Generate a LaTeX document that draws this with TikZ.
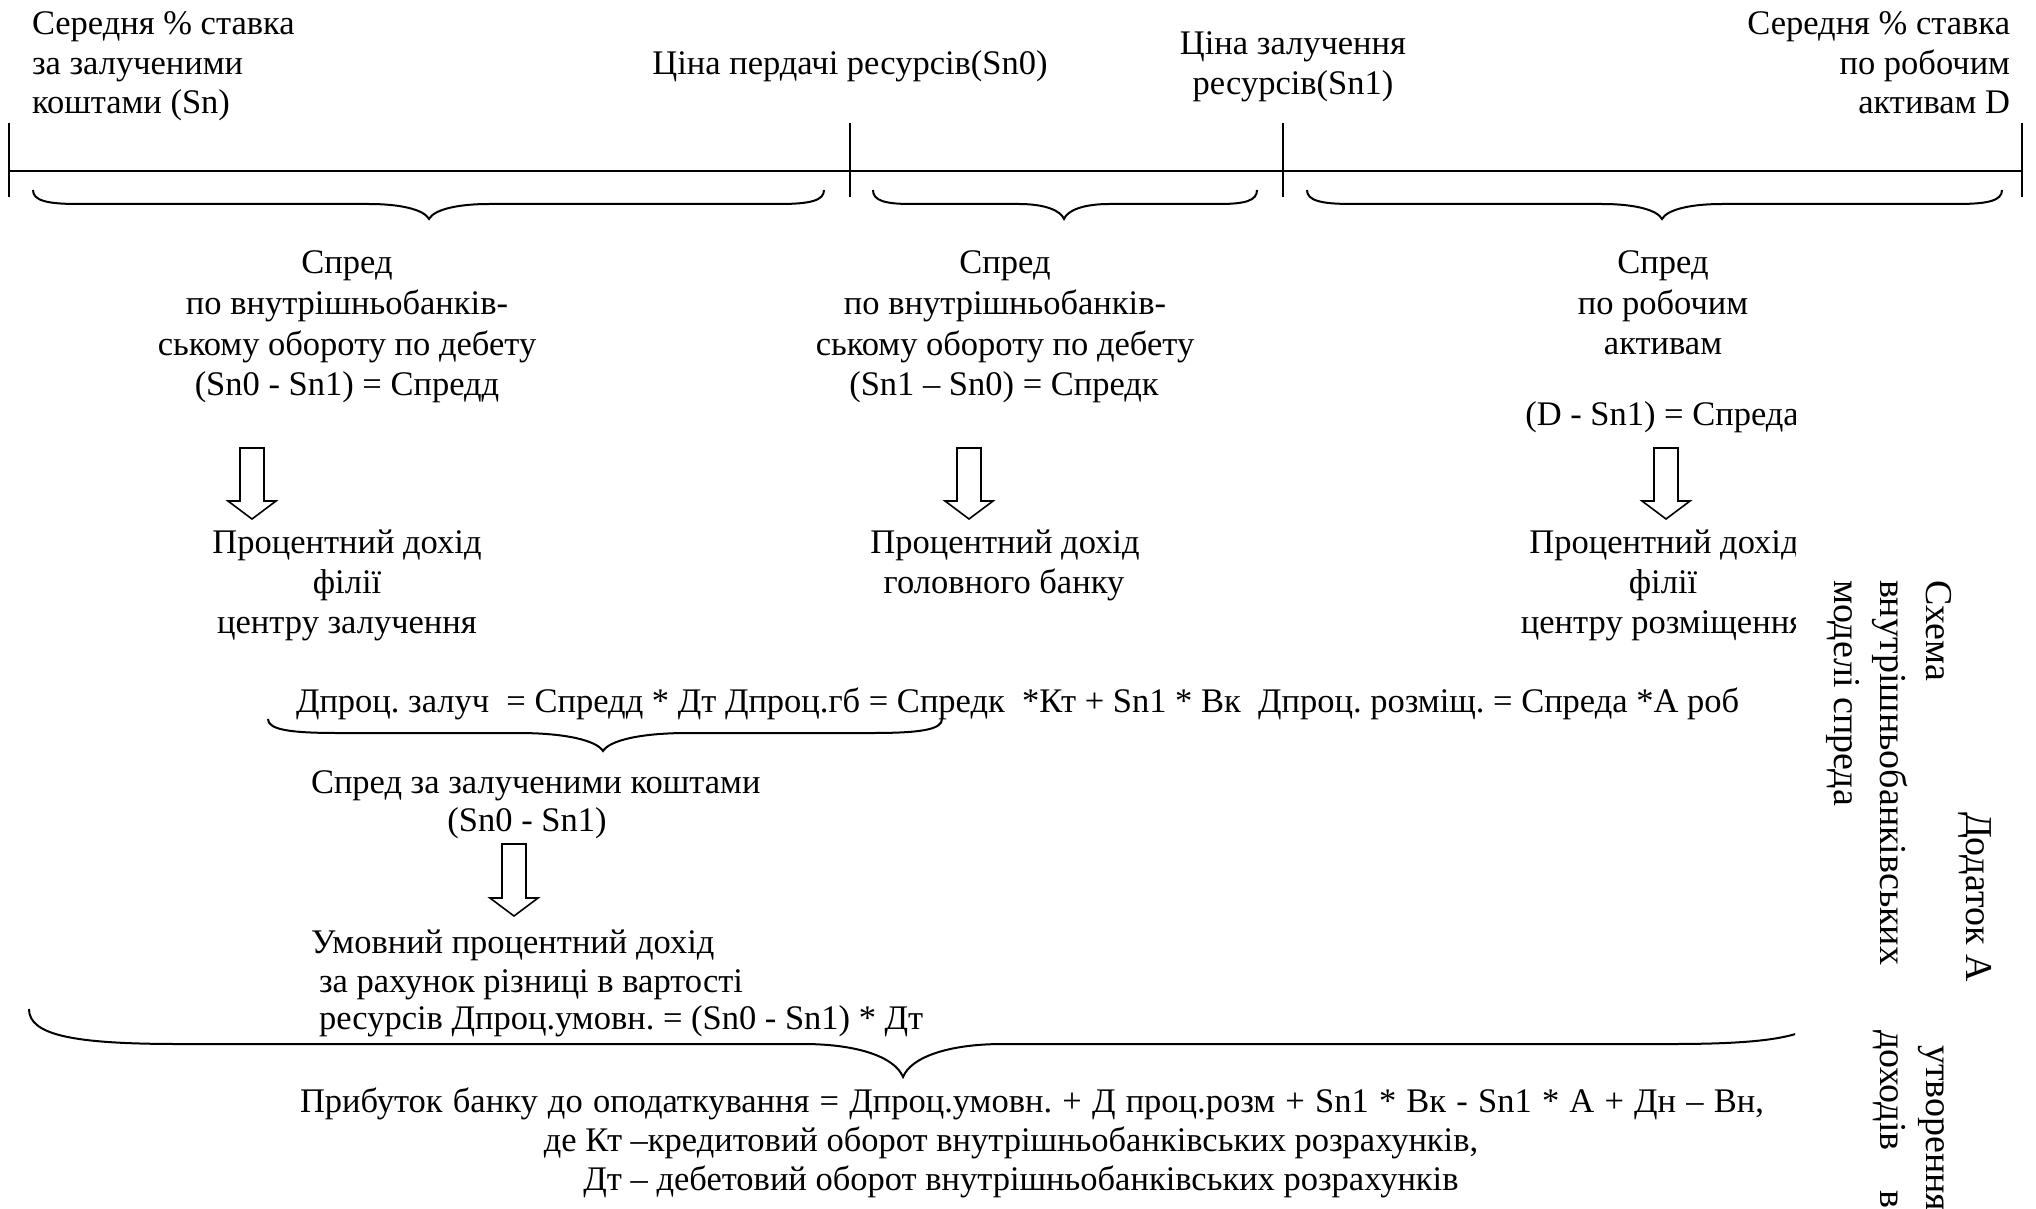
\documentclass[tikz,border=0pt]{standalone}
\usepackage{fontspec}
\setmainfont{Liberation Serif}
\frenchspacing
\newcommand\mainsz{\fontsize{34.5}{40}\selectfont}
\newcommand\widesz{\fontsize{34.5}{40}\selectfont\spaceskip=10.2pt\relax}
\newcommand\rotsz{\fontsize{38}{46}\selectfont}
% Word-like curly brace: x1, x2, xtip, ytop, yflat, ytip, end-width, tip-width
\newcommand\wbrace[8]{%
  \draw[bracestyle] (#1,#4) .. controls (#1,{#4+0.75*(#5-#4)}) and ({#1+0.3*#7},#5) .. ({#1+#7},#5)
    -- ({#3-#8},#5) .. controls ({#3-0.45*#8},#5) and ({#3-0.08*#8},{#5+0.4*(#6-#5)}) .. (#3,#6)
    .. controls ({#3+0.08*#8},{#5+0.4*(#6-#5)}) and ({#3+0.45*#8},#5) .. ({#3+#8},#5)
    -- ({#2-#7},#5) .. controls ({#2-0.3*#7},#5) and (#2,{#4+0.75*(#5-#4)}) .. (#2,#4);}
% hollow block arrow: x, ytop, yhead, ytip
\newcommand\blockarrow[4]{%
  \draw[blockarr] ({#1-12},#2) -- ({#1+12},#2) -- ({#1+12},#3) -- ({#1+24},#3) -- (#1,#4)
    -- ({#1-24},#3) -- ({#1-12},#3) -- cycle;}
\begin{document}
\begin{tikzpicture}[x=1pt,y=-1pt,
  txt/.style={inner sep=0pt, outer sep=0pt, font=\mainsz},
  widetxt/.style={inner sep=0pt, outer sep=0pt, font=\widesz},
  rtxt/.style={inner sep=0pt, outer sep=0pt, font=\rotsz, rotate=-90, anchor=base west},
  axisline/.style={line width=2pt},
  tickline/.style={line width=1.6pt},
  bracestyle/.style={line width=2pt},
  blockarr/.style={line width=1.6pt, line join=miter}]
\useasboundingbox (0,0) rectangle (2036,1209);
\clip (0,0) rectangle (2036,1209);

% ---- top labels
\node[txt, anchor=base west] (tl1) at (32,35) {Середня \% ставка};
\node[txt, anchor=base west] (tl2) at (32,75) {за залученими};
\node[txt, anchor=base west] (tl3) at (32,114) {коштами (Sn)};
\node[txt, anchor=base] (tc) at (850,75) {Ціна пердачі ресурсів(Sn0)};
\node[txt, anchor=base] (tz1) at (1293,55) {Ціна залучення};
\node[txt, anchor=base] (tz2) at (1293,95) {ресурсів(Sn1)};
\node[txt, anchor=base east] (tr1) at (2010,35) {Середня \% ставка};
\node[txt, anchor=base east] (tr2) at (2010,75) {по робочим};
\node[txt, anchor=base east] (tr3) at (2010,114) {активам D};

% ---- axis with ticks
\coordinate (a0) at (9,171);
\coordinate (a3) at (2022,171);
\draw[axisline] (a0) -- (a3);
\foreach \x in {9,850,1283,2022} \draw[tickline] (\x,123) -- (\x,197);

% ---- top braces
\wbrace{33}{824}{429}{190}{204}{219}{45}{60}
\wbrace{873}{1257}{1064}{190}{204}{219}{38}{45}
\wbrace{1307}{2002}{1662}{190}{204}{219}{45}{60}

% ---- column 1
\node[txt, anchor=base] (c1a) at (347,273) {Спред};
\node[txt, anchor=base] (c1b) at (347,314) {по внутрішньобанків-};
\node[txt, anchor=base] (c1c) at (347,355) {ському обороту по дебету};
\node[txt, anchor=base] (c1d) at (347,395) {(Sn0 - Sn1) = Спредд};
\blockarrow{252}{448}{501}{519}
\node[txt, anchor=base] (c1e) at (347,553) {Процентний дохід};
\node[txt, anchor=base] (c1f) at (347,593) {філії};
\node[txt, anchor=base] (c1g) at (347,633) {центру залучення};

% ---- column 2
\node[txt, anchor=base] (c2a) at (1005,273) {Спред};
\node[txt, anchor=base] (c2b) at (1005,314) {по внутрішньобанків-};
\node[txt, anchor=base] (c2c) at (1005,355) {ському обороту по дебету};
\node[txt, anchor=base] (c2d) at (1004,395) {(Sn1 – Sn0) = Спредк};
\blockarrow{969}{448}{501}{519}
\node[txt, anchor=base] (c2e) at (1005,553) {Процентний дохід};
\node[txt, anchor=base] (c2f) at (1004,593) {головного банку};

% ---- column 3 and big brace (clipped at the right)
\begin{scope}
\clip (0,0) rectangle (1795,1209);
\node[txt, anchor=base] (c3a) at (1663,273) {Спред};
\node[txt, anchor=base] (c3b) at (1663,314) {по робочим};
\node[txt, anchor=base] (c3c) at (1663,354) {активам};
\node[txt, anchor=base] (c3d) at (1662,425) {(D - Sn1) = Спреда};
\blockarrow{1666}{448}{501}{519}
\node[txt, anchor=base] (c3e) at (1664,553) {Процентний дохід};
\node[txt, anchor=base] (c3f) at (1663,593) {філії};
\node[txt, anchor=base] (c3g) at (1663,633) {центру розміщення};
\wbrace{29}{1822}{903}{1009}{1044}{1077}{150}{100}
\end{scope}

% ---- formula row
\node[txt, anchor=base west] (fm) at (296,712) {Дпроц. залуч\ \ = Спредд * Дт Дпроц.гб = Спредк\ \ *Кт + Sn1 * Вк\ \ Дпроц. розміщ. = Спреда *А роб};
\wbrace{268}{942}{603}{719}{733}{751}{70}{85}

\node[txt, anchor=base west] (s1) at (311,793) {Спред за залученими коштами};
\node[txt, anchor=base] (s2) at (527,831) {(Sn0 - Sn1)};
\blockarrow{514}{844}{898}{916}
\node[txt, anchor=base west] (u1) at (311,953) {Умовний процентний дохід};
\node[txt, anchor=base west] (u2) at (319,992) {за рахунок різниці в вартості};
\node[txt, anchor=base west] (u3) at (319,1029) {ресурсів Дпроц.умовн. = (Sn0 - Sn1) * Дт};

% ---- bottom text
\node[widetxt, anchor=base] (p1) at (1032,1112) {Прибуток банку до оподаткування = Дпроц.умовн. + Д проц.розм + Sn1 * Вк - Sn1 * А + Дн – Вн,};
\node[txt, anchor=base] (p2) at (1011,1151) {де Кт –кредитовий оборот внутрішньобанківських розрахунків,};
\node[txt, anchor=base] (p3) at (1021,1190) {Дт – дебетовий оборот внутрішньобанківських розрахунків};

% ---- rotated title block
\node[rtxt] (rA) at (1966,812) {Додаток А};
\node[rtxt] (r1a) at (1926,580) {Схема};
\node[rtxt] (r1b) at (1926,1045) {утворення};
\node[rtxt] (r2a) at (1880,580) {внутрішньобанківських};
\node[rtxt] (r2b) at (1880,1030) {доходів};
\node[rtxt] (r2c) at (1880,1190) {в};
\node[rtxt] (r3a) at (1834,580) {моделі спреда};
\end{tikzpicture}
\end{document}
